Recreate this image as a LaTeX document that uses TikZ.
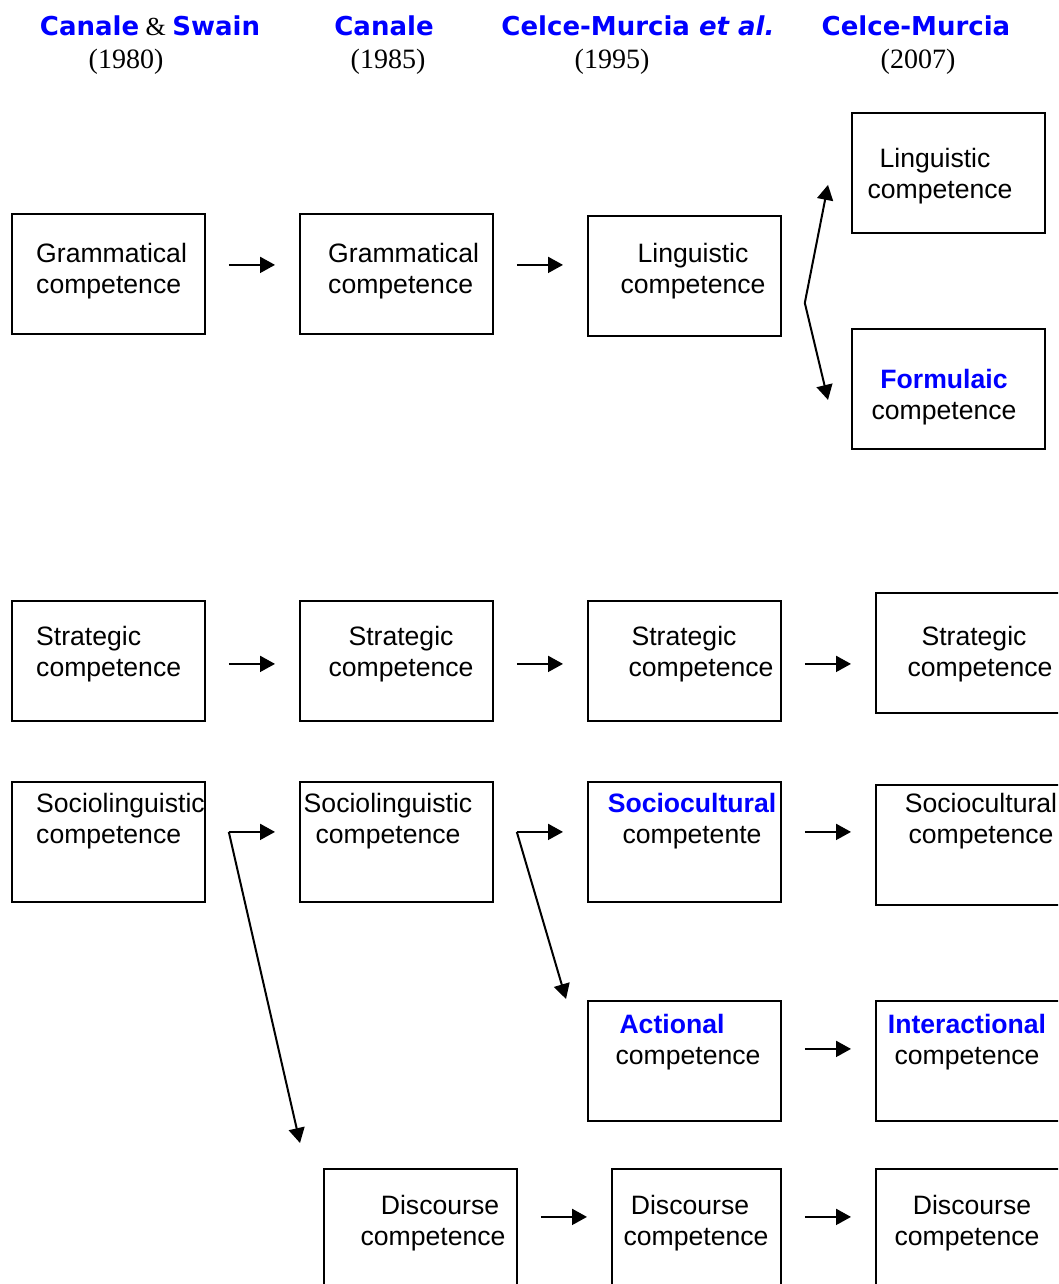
\documentclass[tikz,border=0pt]{standalone}
\usepackage{fontspec}
\setmainfont{Liberation Serif}
\setsansfont{Liberation Sans}
\newfontfamily\headfont{DejaVu Sans}
\usetikzlibrary{arrows.meta}

\definecolor{authblue}{RGB}{0,0,255}
\newcommand{\auth}[1]{{\headfont\bfseries\color{authblue}#1}}
\newcommand{\newc}[1]{{\sffamily\bfseries\color{authblue}#1}}

\tikzset{
  box/.style={draw, line width=1.8pt, minimum width=193pt, minimum height=120pt,
    inner sep=0pt, anchor=north west},
  txt/.style={font=\sffamily\fontsize{26.6}{31}\selectfont, inner sep=0pt},
  arr/.style={line width=2pt, -{Triangle[length=15pt,width=16pt]}},
  head/.style={font=\fontsize{26}{30}\selectfont, inner sep=0pt},
  year/.style={font=\fontsize{28}{30}\selectfont, inner sep=0pt}
}

\begin{document}
\begin{tikzpicture}[x=1pt,y=-1pt]
\useasboundingbox (0,0) rectangle (1058,1284);
\clip (0,0) rectangle (1058,1284);

% headings
\node[head] (h1) at (150,26) {\auth{Canale} \& \auth{Swain}};
\node[year] (y1) at (126,62) {(1980)};
\node[head] (h2) at (384,26) {\auth{Canale}};
\node[year] (y2) at (388,62) {(1985)};
\node[head] (h3) at (638,26) {\auth{Celce-Murcia \textit{et al.}}};
\node[year] (y3) at (612,62) {(1995)};
\node[head] (h4) at (916,26) {\auth{Celce-Murcia}};
\node[year] (y4) at (918,62) {(2007)};

% boxes
\node[box] (g1) at (11,213) {};
\node[box] (g2) at (299,213) {};
\node[box] (ling3) at (587,215) {};
\node[box] (ling4) at (851,112) {};
\node[box] (form4) at (851,328) {};
\node[box] (strat1) at (11,600) {};
\node[box] (strat2) at (299,600) {};
\node[box] (strat3) at (587,600) {};
\node[box] (strat4) at (875,592) {};
\node[box] (socl1) at (11,781) {};
\node[box] (socl2) at (299,781) {};
\node[box] (socc3) at (587,781) {};
\node[box] (socc4) at (875,784) {};
\node[box] (act3) at (587,1000) {};
\node[box] (inter4) at (875,1000) {};
\node[box] (disc2) at (323,1168) {};
\node[box, minimum width=169pt] (disc3) at (611,1168) {};
\node[box] (disc4) at (875,1168) {};

% texts
\node[txt, anchor=west, align=left] (g1t) at (36,271) {Grammatical\\competence};
\node[txt, anchor=west, align=left] (g2t) at (328,271) {Grammatical\\competence};
\node[txt, align=center] (ling3t) at (693,271) {Linguistic\\competence};
\node[txt, align=center] (ling4t) at (940,176) {\hspace*{-10pt}Linguistic\\competence};
\node[txt, align=center] (form4t) at (944,397) {\newc{Formulaic}\\competence};
\node[txt, anchor=west, align=left] (strat1t) at (36,654) {Strategic\\competence};
\node[txt, align=center] (strat2t) at (401,654) {Strategic\\competence};
\node[txt, align=center] (strat3t) at (701,654) {\hspace*{-34pt}Strategic\\competence};
\node[txt, align=center] (strat4t) at (980,654) {\hspace*{-12pt}Strategic\\competence};
\node[txt, anchor=west, align=left] (socl1t) at (36,821) {Sociolinguistic\\competence};
\node[txt, align=center] (socl2t) at (388,821) {Sociolinguistic\\competence};
\node[txt, align=center] (socc3t) at (692,821) {\newc{Sociocultural}\\competente};
\node[txt, align=center] (socc4t) at (981,821) {Sociocultural\\competence};
\node[txt, align=center] (act3t) at (688,1042) {\hspace*{-32pt}\newc{Actional}\\competence};
\node[txt, align=center] (inter4t) at (967,1042) {\newc{Interactional}\\competence};
\node[txt, align=center] (disc2t) at (433,1223) {\hspace*{14pt}Discourse\\competence};
\node[txt, align=center] (disc3t) at (696,1223) {\hspace*{-12pt}Discourse\\competence};
\node[txt, align=center] (disc4t) at (967,1223) {\hspace*{10pt}Discourse\\competence};

% arrows
\draw[arr] ([xshift=23pt,yshift=9pt]g1.east) -- ([xshift=-24pt,yshift=9pt]g2.west);
\draw[arr] ([xshift=23pt,yshift=9pt]g2.east) -- ([xshift=-24pt,yshift=11pt]ling3.west);
\coordinate (lfork) at ([xshift=23pt,yshift=-27pt]ling3.east);
\draw[arr] (lfork) -- ([xshift=-23pt,yshift=-12pt]ling4.west);
\draw[arr] (lfork) -- ([xshift=-23pt,yshift=-11pt]form4.west);

\draw[arr] ([xshift=23pt,yshift=-3pt]strat1.east) -- ([xshift=-24pt,yshift=-3pt]strat2.west);
\draw[arr] ([xshift=23pt,yshift=-3pt]strat2.east) -- ([xshift=-24pt,yshift=-3pt]strat3.west);
\draw[arr] ([xshift=23pt,yshift=-3pt]strat3.east) -- ([xshift=-24pt,yshift=-11pt]strat4.west);

\coordinate (s1fork) at ([xshift=23pt,yshift=10pt]socl1.east);
\draw[arr] (s1fork) -- ([xshift=-24pt,yshift=10pt]socl2.west);
\draw[arr] (s1fork) -- ([xshift=-23pt,yshift=25pt]disc2.north west);
\coordinate (s2fork) at ([xshift=23pt,yshift=10pt]socl2.east);
\draw[arr] (s2fork) -- ([xshift=-24pt,yshift=10pt]socc3.west);
\draw[arr] (s2fork) -- ([xshift=-21pt,yshift=1pt]act3.north west);
\draw[arr] ([xshift=23pt,yshift=10pt]socc3.east) -- ([xshift=-24pt,yshift=13pt]socc4.west);

\draw[arr] ([xshift=23pt,yshift=12pt]act3.east) -- ([xshift=-24pt,yshift=12pt]inter4.west);

\draw[arr] ([xshift=23pt,yshift=12pt]disc2.east) -- ([xshift=-24pt,yshift=12pt]disc3.west);
\draw[arr] ([xshift=23pt,yshift=12pt]disc3.east) -- ([xshift=-24pt,yshift=12pt]disc4.west);
\end{tikzpicture}
\end{document}
